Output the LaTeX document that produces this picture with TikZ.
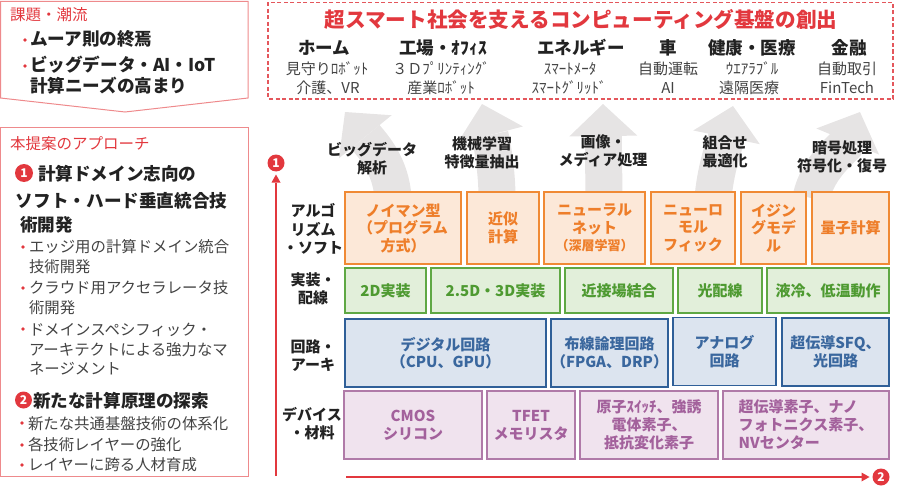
\documentclass[tikz,border=0pt]{standalone}
\usepackage{fontspec}
\setmainfont{Noto Sans CJK JP}
\usetikzlibrary{arrows.meta}
\definecolor{redT}{HTML}{E2383E}
\definecolor{panelB}{HTML}{EE8A8C}
\definecolor{dashR}{HTML}{E4575C}
\definecolor{garr}{HTML}{E6E4E4}
\definecolor{oB}{HTML}{F08A35}
\definecolor{oF}{HTML}{FCE8D8}
\definecolor{oT}{HTML}{EE7E2A}
\definecolor{gB}{HTML}{5FA844}
\definecolor{gF}{HTML}{E2EFDA}
\definecolor{gT}{HTML}{4E9A31}
\definecolor{bB}{HTML}{2F5F98}
\definecolor{bF}{HTML}{DCE4EF}
\definecolor{bT}{HTML}{3A679E}
\definecolor{pB}{HTML}{B07AA8}
\definecolor{pF}{HTML}{F0E3EE}
\definecolor{pT}{HTML}{A3619C}
\definecolor{txt}{HTML}{222222}
\begin{document}
\begin{tikzpicture}[x=1pt,y=-1pt,
  every node/.style={inner sep=0pt,outer sep=0pt},
  garrow/.style={line width=37pt,draw=garr,-{Triangle[length=32pt,width=68pt,line width=0pt]}},
  redaxis/.style={line width=2.6pt,draw=redT,-{Triangle[length=8pt,width=9pt,line width=0pt]}},
  numc/.style={circle,fill=redT,text=white,font=\bfseries\fontsize{12}{12}\selectfont,minimum size=17pt},
  bul/.style={circle,fill=redT,minimum size=3.6pt},
  pred/.style={anchor=base west,font=\fontsize{15.5}{18}\selectfont,text=redT},
  pbig/.style={anchor=base west,font=\bfseries\fontsize{17.6}{20}\selectfont,text=txt},
  ptxt/.style={anchor=base west,font=\fontsize{15.4}{18}\selectfont,text=txt!85},
  headt/.style={anchor=base,font=\bfseries\fontsize{17.5}{20}\selectfont,text=txt},
  subt/.style={anchor=base,font=\fontsize{15}{18}\selectfont,text=txt!85},
  lab/.style={align=center,font=\bfseries\fontsize{15}{18}\selectfont,text=txt},
  boxbase/.style={align=center,line width=1.2pt,font=\bfseries\fontsize{15}{17.5}\selectfont},
  obox/.style={boxbase,draw=oB,fill=oF,text=oT,minimum height=72pt},
  gbox/.style={boxbase,draw=gB,fill=gF,text=gT,minimum height=45pt},
  bbox/.style={boxbase,draw=bB,fill=bF,text=bT,minimum height=68pt},
  pbox/.style={boxbase,draw=pB,fill=pF,text=pT,minimum height=68pt,font=\bfseries\fontsize{15}{18}\selectfont}
]
\useasboundingbox (0,0) rectangle (901,500);

% ---------- left panels ----------
\draw[panelB,line width=1pt] (0.5,1.5) -- (248,1.5) -- (248,98) -- (125,112) -- (0.5,98) -- cycle;
\draw[panelB,line width=1pt] (0.5,127) rectangle (248,476);

\node[pred] (k0) at (10,21) {課題・潮流};
\node[bul] (kb1) at (25,40) {};
\node[pbig] (k1) at (30,46) {ムーア則の終焉};
\node[bul] (kb2) at (25,66) {};
\node[pbig] (k2) at (30,72) {ビッグデータ・AI・IoT};
\node[pbig] (k3) at (30,93) {計算ニーズの高まり};

\node[pred] (a0) at (10,149) {本提案のアプローチ};
\node[numc,minimum size=18pt] (n1) at (24,173) {1};
\node[pbig] (a1) at (38,180) {計算ドメイン志向の};
\node[pbig] (a2) at (16,207) {ソフト・ハード垂直統合技};
\node[pbig] (a3) at (20,231) {術開発};
\node[bul] (ab1) at (23,247) {};
\node[ptxt] (a4) at (29,252.5) {エッジ用の計算ドメイン統合};
\node[ptxt] (a5) at (29,272.5) {技術開発};
\node[bul] (ab2) at (23,288) {};
\node[ptxt] (a6) at (29,293.5) {クラウド用アクセラレータ技};
\node[ptxt] (a7) at (29,313) {術開発};
\node[bul] (ab3) at (23,329) {};
\node[ptxt] (a8) at (29,335) {ドメインスペシフィック・};
\node[ptxt] (a9) at (29,355) {アーキテクトによる強力なマ};
\node[ptxt] (a10) at (29,374) {ネージメント};
\node[numc] (n2) at (23.5,400) {2};
\node[pbig] (a11) at (33,407) {新たな計算原理の探索};
\node[bul] (ab4) at (22,423) {};
\node[ptxt] (a12) at (28,429) {新たな共通基盤技術の体系化};
\node[bul] (ab5) at (22,445) {};
\node[ptxt] (a13) at (28,450) {各技術レイヤーの強化};
\node[bul] (ab6) at (22,465) {};
\node[ptxt] (a14) at (28,470) {レイヤーに跨る人材育成};

% ---------- top dashed box ----------
\draw[dashR,line width=1.3pt,dash pattern=on 4pt off 2.5pt] (268,2.5) rectangle (893,99);
\node[anchor=base,font=\bfseries\fontsize{20.6}{22}\selectfont,text=redT] (title) at (581,27.8) {超スマート社会を支えるコンピューティング基盤の創出};
\node[headt] (h1) at (324,55) {ホーム};
\node[headt] (h2) at (443,55) {工場・ｵﾌｨｽ};
\node[headt] (h3) at (581,55) {エネルギー};
\node[headt] (h4) at (668,55) {車};
\node[headt] (h5) at (752,55) {健康・医療};
\node[headt] (h6) at (849,55) {金融};
\node[subt] (s1a) at (327,74.5) {見守りﾛﾎﾞｯﾄ};
\node[subt] (s1b) at (328,93.5) {介護、VR};
\node[subt] (s2a) at (441,74.5) {３Ｄﾌﾟﾘﾝﾃｨﾝｸﾞ};
\node[subt] (s2b) at (441,93.5) {産業ﾛﾎﾞｯﾄ};
\node[subt] (s3a) at (570,74.5) {ｽﾏｰﾄﾒｰﾀ};
\node[subt] (s3b) at (569,93.5) {ｽﾏｰﾄｸﾞﾘｯﾄﾞ};
\node[subt] (s4a) at (668,74.5) {自動運転};
\node[subt] (s4b) at (668,93.5) {AI};
\node[subt] (s5a) at (752,74.5) {ｳｴｱﾗﾌﾞﾙ};
\node[subt] (s5b) at (749,93.5) {遠隔医療};
\node[subt] (s6a) at (847,74.5) {自動取引};
\node[subt] (s6b) at (847,93.5) {FinTech};

% ---------- gray arrows ----------
\coordinate (ga1) at (393,198); \coordinate (gt1) at (345,112);
\coordinate (ga2) at (497,198); \coordinate (gt2) at (482,104);
\coordinate (ga3) at (604,198); \coordinate (gt3) at (603,104);
\coordinate (ga4) at (713,198); \coordinate (gt4) at (733,106);
\coordinate (ga5) at (811,198); \coordinate (gt5) at (860,112);
\draw[garrow] (ga1) .. controls (391,165) and (372,145) .. (gt1);
\draw[garrow] (ga2) .. controls (497,165) and (490,135) .. (gt2);
\draw[garrow] (ga3) -- (gt3);
\draw[garrow] (ga4) .. controls (716,165) and (726,140) .. (gt4);
\draw[garrow] (ga5) .. controls (818,165) and (845,148) .. (gt5);

\node[lab] (g1) at (372,159) {ビッグデータ\\解析};
\node[lab] (g2) at (482,152.5) {機械学習\\特徴量抽出};
\node[lab] (g3) at (603,151) {画像・\\メディア処理};
\node[lab] (g4) at (725,151.5) {組合せ\\最適化};
\node[lab] (g5) at (842,156.5) {暗号処理\\符号化・復号};

% ---------- axes ----------
\node[numc] (c1) at (276,163) {1};
\node[numc] (c2) at (881,477) {2};
\coordinate (vbot) at (276,476);
\coordinate (hleft) at (346,477);
\draw[redaxis,shorten >=3pt] (vbot) -- (c1);
\draw[redaxis,shorten >=3pt] (hleft) -- (c2);

% ---------- row labels ----------
\node[lab,font=\bfseries\fontsize{15}{18.5}\selectfont] (r1) at (313,229) {アルゴ\\リズム\\・ソフト};
\node[lab,font=\bfseries\fontsize{15}{17.5}\selectfont] (r2) at (313,289) {実装・\\配線};
\node[lab,font=\bfseries\fontsize{15}{18}\selectfont] (r3) at (313,356) {回路・\\アーキ};
\node[lab,font=\bfseries\fontsize{15}{18}\selectfont] (r4) at (312,424) {デバイス\\・材料};

% ---------- orange row ----------
\node[obox,minimum width=116pt] (o1) at (403,228) {ノイマン型\\（プログラム\\方式）};
\node[obox,minimum width=72pt] (o2) at (503,228) {近似\\計算};
\node[obox,minimum width=101pt] (o3) at (594.5,228) {ニューラル\\ネット\\{\fontsize{13}{15}\selectfont （深層学習）}};
\node[obox,minimum width=84pt] (o4) at (693,228) {ニューロ\\モル\\フィック};
\node[obox,minimum width=65pt] (o5) at (773.5,228) {イジン\\グモデ\\ル};
\node[obox,minimum width=77pt] (o6) at (850.5,228) {量子計算};

% ---------- green row ----------
\node[gbox,minimum width=81pt] (gr1) at (385.5,290.5) {2D実装};
\node[gbox,minimum width=129pt] (gr2) at (495.5,290.5) {2.5D・3D実装};
\node[gbox,minimum width=108pt] (gr3) at (619,290.5) {近接場結合};
\node[gbox,minimum width=84pt] (gr4) at (720,290.5) {光配線};
\node[gbox,minimum width=122pt] (gr5) at (828,290.5) {液冷、低温動作};

% ---------- blue row ----------
\node[bbox,minimum width=201pt] (b1) at (445.5,353) {デジタル回路\\（CPU、GPU）};
\node[bbox,minimum width=117pt] (b2) at (609.5,353) {布線論理回路\\（FPGA、DRP）};
\node[bbox,minimum width=103pt] (b3) at (724.5,351.5) {アナログ\\回路};
\node[bbox,minimum width=107pt] (b4) at (835.5,352) {超伝導SFQ、\\光回路};

% ---------- purple row ----------
\node[pbox,minimum width=138pt] (p1) at (413,425) {CMOS\\シリコン};
\node[pbox,minimum width=88pt] (p2) at (531,425) {TFET\\メモリスタ};
\node[pbox,minimum width=138pt] (p3) at (649,425) {原子ｽｲｯﾁ、強誘\\電体素子、\\抵抗変化素子};
\node[pbox,minimum width=166pt,align=left] (p4) at (806,425) {超伝導素子、ナノ\\フォトニクス素子、\\NVセンター};
\end{tikzpicture}
\end{document}
